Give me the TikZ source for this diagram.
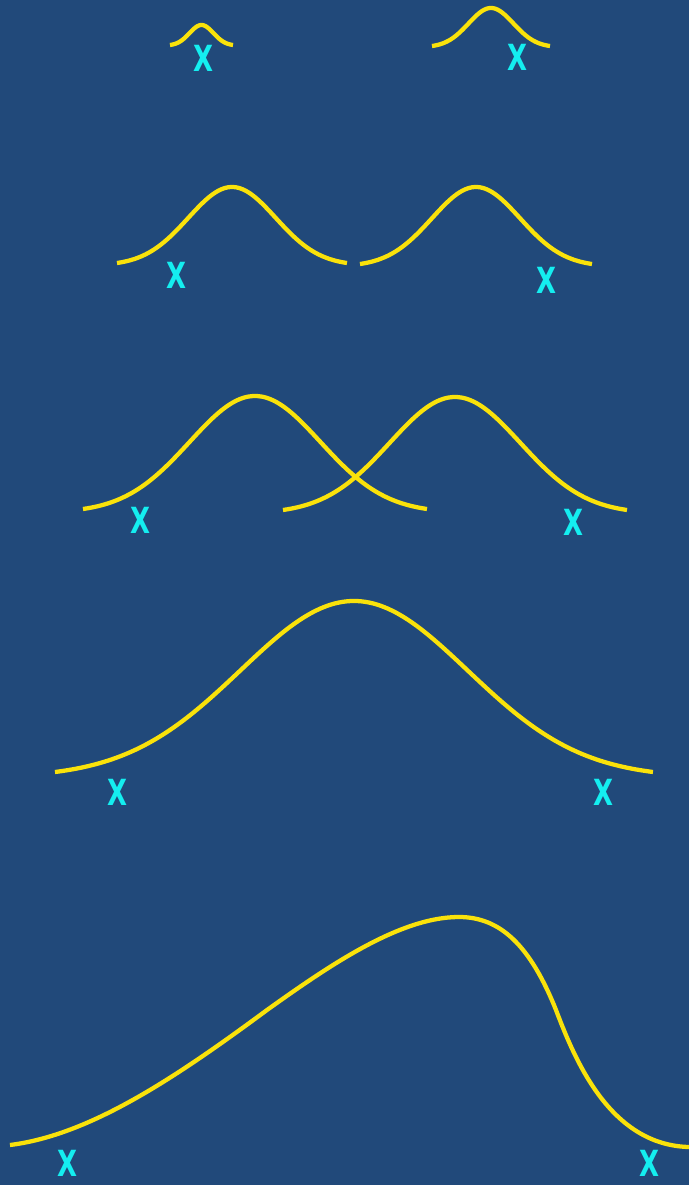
\documentclass[tikz,border=0pt]{standalone}
\usepackage{fontspec}
\newfontfamily\xfont{DejaVu Sans}
\begin{document}
\begin{tikzpicture}[x=0.75pt,y=-0.75pt,
  declare function={gn(\t,\r)=(exp(-\t*\t/(2*\r*\r))-exp(-1/(2*\r*\r)))/(1-exp(-1/(2*\r*\r)));},
  curve/.style={draw=curvecol,line width=3.2pt},
  xmark/.style={text=xcol,inner sep=0pt,font=\xfont\bfseries\fontsize{27}{27}\selectfont,xscale=0.72}]
\definecolor{bgcol}{RGB}{33,73,122}
\definecolor{curvecol}{RGB}{250,226,10}
\definecolor{xcol}{RGB}{20,238,240}
\fill[bgcol] (0,0) rectangle (689,1185);
\useasboundingbox (0,0) rectangle (689,1185);
% generic gaussian: centre c, half-width hw, base yb, height H
\newcommand{\gcurve}[4]{\draw[curve] plot[domain=-1:1,samples=80,smooth] ({#1+#2*\x},{#3-#4*gn(\x,0.38)});}
% row 1
\gcurve{201.5}{31.5}{45}{20}
\gcurve{491}{59}{46}{38}
\node[xmark] (x1a) at (203,58) {X};
\node[xmark] (x1b) at (517,57) {X};
% row 2
\gcurve{232}{115}{263}{76}
\gcurve{476}{116}{264}{77}
\node[xmark] (x2a) at (176,275) {X};
\node[xmark] (x2b) at (546,280) {X};
% row 3
\gcurve{255}{172}{509}{113}
\gcurve{455}{172}{510}{113}
\node[xmark] (x3a) at (140,520) {X};
\node[xmark] (x3b) at (573,522) {X};
% row 4
\gcurve{354}{299}{772}{171}
\node[xmark] (x4a) at (117,792) {X};
\node[xmark] (x4b) at (603,792) {X};
% row 5 (skewed)
\draw[curve] (10,1145) .. controls (90,1135) and (175,1078) .. (267,1010)
  .. controls (330,965) and (400,917) .. (459,917)
  .. controls (500,917) and (530,945) .. (556,1010)
  .. controls (575,1060) and (610,1145) .. (689,1147);
\node[xmark] (x5a) at (67,1163) {X};
\node[xmark] (x5b) at (649,1163) {X};
\end{tikzpicture}
\end{document}
